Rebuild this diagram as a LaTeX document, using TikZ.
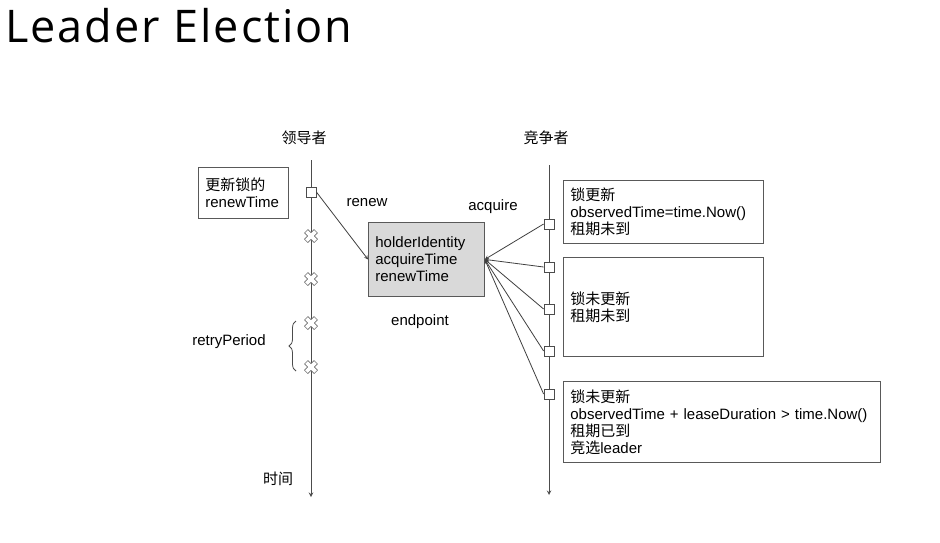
\documentclass[tikz,border=0pt]{standalone}
\usepackage{fontspec}
\setmainfont{Liberation Sans}
\newfontfamily\cjk{Noto Sans CJK SC}
\newfontfamily\titlefont[LetterSpace=4.4]{Open Sans}
\usetikzlibrary{arrows,positioning,decorations.pathreplacing}
\tikzset{
      lifeline/.style  = {black!70, line width=1pt, ->, >=stealth},
      msgedge/.style   = {black!75, line width=0.8pt, ->, >=stealth},
      tick/.style      = {draw=black!70, fill=white, line width=0.8pt, minimum size=10pt, inner sep=0pt},
      notebox/.style   = {draw=black!65, line width=0.8pt, align=left, anchor=north west,
                          inner xsep=7pt, inner ysep=0pt, font=\fontsize{15}{17}\selectfont},
      lease/.style     = {notebox, fill=black!15},
      lbl/.style       = {font=\fontsize{15}{17}\selectfont, inner sep=0pt},
      failmark/.pic    = {
        \draw[line width=5.6pt, black!55] (-5,-5) -- (5,5) (-5,5) -- (5,-5);
        \draw[line width=3.6pt, white] (-4.5,-4.5) -- (4.5,4.5) (-4.5,4.5) -- (4.5,-4.5);
      },
    }

\begin{document}
\begin{tikzpicture}[x=1pt,y=-1pt]
        \fill[white] (0,0) rectangle (940,542);
        \node[anchor=base west, inner sep=0pt, font=\titlefont\fontsize{45}{50}\selectfont] (title) at (5,42) {Leader Election};

        % lifelines
        \coordinate (ltop) at (311,160);
        \coordinate (lbot) at (311,497);
        \coordinate (ctop) at (549,165);
        \coordinate (cbot) at (549,495);
        \draw[lifeline] (ltop) -- (lbot);
        \draw[lifeline] (ctop) -- (cbot);
        \node[lbl] (leader) at (304,138) {\cjk 领导者};
        \node[lbl] (rival)  at (546,138) {\cjk 竞争者};
        \node[lbl] (time)   at (278,479) {\cjk 时间};

        % leader side
        \node[notebox, minimum width=90pt, minimum height=51pt, text width=76pt] (renewnote) at (198,167)
             {{\cjk 更新锁的}\\renewTime};
        \node[tick] (l1) at (311,192) {};
        \foreach \y [count=\i] in {236,279,323,367}
            \pic (x\i) at (311,\y) {failmark};
        \draw[decorate, decoration={brace, amplitude=7pt}, black!70, line width=0.8pt]
             (296,371) -- (296,321);
        \node[lbl] (retry) at (229,342) {retryPeriod};

        % endpoint
        \node[lease, minimum width=116pt, minimum height=74pt, text width=102pt] (ep) at (368,222)
             {holderIdentity\\acquireTime\\renewTime};
        \node[lbl] (renew)    at (367,203) {renew};
        \node[lbl] (acquire)  at (493,207) {acquire};
        \node[lbl] (endpoint) at (420,322) {endpoint};

        % competitor side
        \foreach \y [count=\i] in {224,267,309,351,394}
            \node[tick] (c\i) at (549,\y) {};

        \node[notebox, minimum width=200pt, minimum height=63pt, text width=186pt] (note1) at (563,180)
             {{\cjk 锁更新}\\observedTime=time.Now()\\{\cjk 租期未到}};
        \node[notebox, minimum width=200pt, minimum height=99pt, text width=186pt] (note2) at (563,257)
             {{\cjk 锁未更新}\\{\cjk 租期未到}};
        \node[notebox, minimum width=317pt, minimum height=81pt, text width=303pt] (note3) at (563,381)
             {{\cjk 锁未更新}\\observedTime + leaseDuration > time.Now()\\{\cjk 租期已到}\\{\cjk 竞选}leader};

        \path[msgedge]
        (l1.east) edge (ep.west)
        (c1.west) edge (ep.east)
        (c2.west) edge (ep.east)
        (c3.west) edge (ep.east)
        (c4.west) edge (ep.east)
        (c5.west) edge (ep.east);
    \end{tikzpicture}
\end{document}
